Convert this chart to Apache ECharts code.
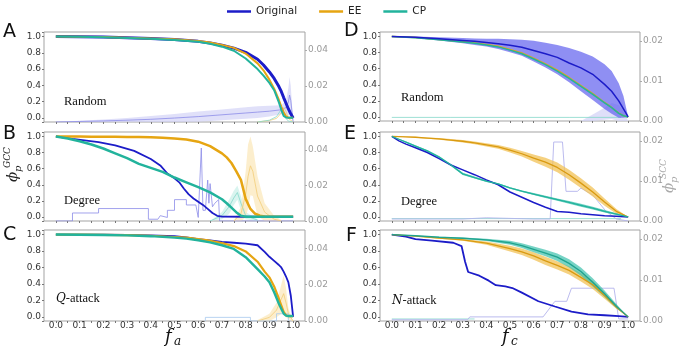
<!DOCTYPE html>
<html><head><meta charset="utf-8">
<script src="https://cdn.jsdelivr.net/npm/echarts@6/dist/echarts.min.js"></script>
<style>html,body{margin:0;padding:0;background:#fff}#c{width:685px;height:355px}</style>
</head><body><div id="c"></div>
<script>
// ---------- tick labels ----------
const xTickLabels = [0,0.1,0.2,0.3,0.4,0.5,0.6,0.7,0.8,0.9,1.0];
const xTicks = [0,0.05,0.1,0.15,0.2,0.25,0.3,0.35,0.4,0.45,0.5,0.55,0.6,0.65,0.7,0.75,0.8,0.85,0.9,0.95,1.0];
const yTickLabels = [0,0.2,0.4,0.6,0.8,1.0];
const panelLetters = ['A','B','C','D','E','F'];
const panelTitles = ['Random','Degree','Q-attack','Random','Degree','N-attack'];
const legendNames = ['Original','EE','CP'];

// ---------- Panel A (Random, GCC) ----------
const xA = [0,0.1,0.2,0.3,0.4,0.5,0.6,0.65,0.7,0.75,0.8,0.85,0.875,0.9,0.92,0.94,0.95,0.96,0.97,0.98,0.99,1.0];
const A_orig = [1,0.998,0.993,0.985,0.975,0.963,0.94,0.92,0.892,0.857,0.805,0.72,0.65,0.565,0.485,0.385,0.325,0.25,0.18,0.11,0.05,0];
const A_ee = [1,0.998,0.993,0.985,0.975,0.965,0.945,0.925,0.897,0.86,0.79,0.67,0.585,0.47,0.36,0.22,0.14,0.07,0.02,0.003,0.002,0.002];
const A_cp = [1,0.997,0.99,0.982,0.972,0.958,0.935,0.91,0.875,0.825,0.73,0.6,0.52,0.43,0.34,0.19,0.1,0.025,0.005,0.002,0.002,0.002];
const xAs = [0,0.1,0.2,0.3,0.4,0.5,0.6,0.7,0.8,0.85,0.9,0.95,0.97,0.98,0.985,0.99,1.0];
const A_orig_s = [0,0.0003,0.0006,0.001,0.0015,0.0022,0.003,0.004,0.005,0.0055,0.006,0.0068,0.008,0.011,0.015,0.012,0];
const A_orig_s_err = [0,0.0004,0.0008,0.0012,0.0018,0.0022,0.0028,0.003,0.0032,0.0033,0.003,0.0025,0.004,0.008,0.01,0.008,0];
const xAs2 = [0.85,0.9,0.93,0.95,0.96,0.97,0.98,1.0];
const A_ee_s = [0,0.0008,0.002,0.005,0.008,0.006,0.002,0];
const A_cp_s = [0,0.001,0.003,0.007,0.005,0.002,0.0005,0];

// ---------- Panel B (Degree, GCC) ----------
const xB_orig = [0,0.07,0.18,0.25,0.33,0.4,0.44,0.47,0.5,0.52,0.54,0.56,0.58,0.6,0.62,0.64,0.66,0.68,0.7,0.8,0.9,1.0];
const B_orig = [1,0.97,0.93,0.89,0.82,0.72,0.64,0.54,0.48,0.43,0.35,0.28,0.23,0.19,0.15,0.1,0.05,0.015,0.004,0.003,0.003,0.003];
const xB = [0,0.05,0.1,0.15,0.2,0.25,0.3,0.35,0.4,0.45,0.5,0.55,0.6,0.65,0.7,0.72,0.74,0.76,0.78,0.8,0.82,0.84,0.86,0.88,0.9,1.0];
const B_ee = [1,0.999,0.998,0.997,0.996,0.995,0.994,0.992,0.99,0.985,0.975,0.962,0.935,0.88,0.79,0.74,0.67,0.57,0.46,0.225,0.1,0.04,0.015,0.005,0.003,0.003];
const B_cp = [1,0.975,0.94,0.9,0.85,0.79,0.73,0.66,0.61,0.56,0.49,0.43,0.37,0.305,0.22,0.17,0.115,0.06,0.015,0.003,0.003,0.003,0.003,0.003,0.003,0.003];
const xBs = [0,0.07,0.07,0.18,0.18,0.39,0.39,0.43,0.44,0.47,0.47,0.5,0.5,0.55,0.55,0.59,0.6,0.613,0.62,0.63,0.64,0.645,0.65,0.66,0.67,0.686,0.69,1.0];
const B_orig_s = [0,0,0.0045,0.0045,0.007,0.007,0.001,0.001,0.003,0.002,0.006,0.006,0.012,0.012,0.009,0.009,0.002,0.041,0.006,0.006,0.023,0.01,0.021,0.008,0.01,0.012,0,0];
const xBs2 = [0.65,0.7,0.73,0.75,0.765,0.78,0.8,0.85];
const B_cp_s = [0,0.003,0.008,0.013,0.016,0.01,0.003,0.0005];
const B_cp_s_err = [0,0.002,0.004,0.004,0.004,0.004,0.002,0.0005];
const xBs3 = [0.75,0.78,0.8,0.81,0.82,0.83,0.85,0.88,0.92,0.95];
const B_ee_s = [0,0.004,0.015,0.025,0.031,0.028,0.014,0.005,0.001,0];
const B_ee_s_err = [0,0.004,0.013,0.018,0.0165,0.014,0.011,0.005,0.002,0.0005];

// ---------- Panel C (Q-attack, GCC) ----------
const xC = [0,0.1,0.2,0.3,0.4,0.5,0.55,0.6,0.65,0.7,0.75,0.8,0.85,0.88,0.9,0.92,0.94,0.95,0.96,0.97,0.98,0.99,1.0];
const C_orig = [1,1,0.998,0.995,0.99,0.98,0.965,0.945,0.93,0.91,0.9,0.89,0.87,0.79,0.73,0.68,0.63,0.6,0.55,0.49,0.42,0.26,0];
const C_ee = [1,0.999,0.997,0.993,0.985,0.97,0.962,0.945,0.925,0.895,0.86,0.795,0.67,0.55,0.48,0.37,0.22,0.14,0.06,0.02,0.01,0.01,0.01];
const C_cp = [1,0.998,0.995,0.99,0.98,0.962,0.95,0.93,0.905,0.87,0.825,0.725,0.58,0.49,0.42,0.3,0.16,0.1,0.04,0.015,0.01,0.01,0.01];
const xCs = [0.85,0.9,0.93,0.95,0.96,0.97,0.98,1.0];
const C_ee_s = [0,0.002,0.006,0.012,0.015,0.01,0.004,0];
const C_ee_s_err = [0.0005,0.002,0.004,0.008,0.01,0.008,0.003,0];
const xCs2 = [0.63,0.63,0.82,0.82,0.93,0.93,0.98,0.98];
const C_orig_s = [0,0.002,0.002,0,0,0.004,0.004,0];

// ---------- Panel D (Random, SCC) ----------
const xD = [0,0.1,0.2,0.3,0.35,0.4,0.45,0.5,0.55,0.6,0.65,0.7,0.75,0.8,0.85,0.9,0.93,0.96,0.98,1.0];
const D_orig = [1,0.99,0.97,0.95,0.94,0.925,0.91,0.89,0.865,0.825,0.785,0.74,0.67,0.61,0.53,0.405,0.32,0.2,0.1,0];
const D_orig_hi = [1,1.0,0.99,0.98,0.975,0.97,0.97,0.965,0.96,0.945,0.92,0.895,0.855,0.81,0.75,0.655,0.57,0.42,0.26,0];
const D_orig_lo = [1,0.98,0.95,0.915,0.895,0.875,0.845,0.805,0.76,0.69,0.615,0.53,0.43,0.32,0.21,0.1,0.04,-0.01,-0.01,0];
const D_ee = [1,0.987,0.963,0.935,0.92,0.9,0.877,0.838,0.795,0.73,0.66,0.58,0.49,0.39,0.29,0.18,0.118,0.047,0.015,0];
const D_cp = [1,0.985,0.96,0.93,0.915,0.895,0.87,0.83,0.785,0.72,0.65,0.57,0.48,0.38,0.28,0.175,0.115,0.045,0.015,0];
const xDs = [0,0.25,0.5,0.75,0.97];
const D_cp_s = [0.0009,0.0009,0.0009,0.0009,0.0009];
const xDs2 = [0.8,0.85,0.9,0.93,0.96,0.98,1.0];
const D_orig_s = [0,0.0008,0.0018,0.0025,0.002,0.001,0];
const D_orig_s_err = [0,0.0008,0.0015,0.002,0.002,0.0015,0];

// ---------- Panel E (Degree, SCC) ----------
const xE = [0,0.03,0.06,0.1,0.15,0.2,0.25,0.3,0.35,0.4,0.45,0.5,0.55,0.6,0.65,0.7,0.75,0.8,0.85,0.9,0.95,1.0];
const E_orig = [1,0.945,0.905,0.86,0.8,0.725,0.645,0.585,0.525,0.46,0.4,0.31,0.245,0.18,0.12,0.068,0.06,0.04,0.028,0.015,0.01,0];
const E_ee = [1,0.998,0.995,0.99,0.98,0.97,0.955,0.94,0.92,0.895,0.87,0.83,0.785,0.73,0.68,0.615,0.525,0.42,0.31,0.185,0.07,0];
const E_ee_err = [0,0.002,0.004,0.006,0.008,0.01,0.012,0.015,0.018,0.02,0.024,0.028,0.035,0.045,0.055,0.06,0.062,0.06,0.055,0.045,0.03,0];
const E_cp = [1,0.965,0.93,0.88,0.82,0.745,0.645,0.535,0.49,0.445,0.41,0.36,0.32,0.285,0.25,0.215,0.18,0.145,0.11,0.07,0.035,0];
const E_cp_err = [0,0.005,0.008,0.01,0.012,0.012,0.013,0.015,0.012,0.01,0.01,0.01,0.01,0.012,0.013,0.015,0.017,0.018,0.018,0.016,0.01,0];
const xEs = [0,0.3,0.4,0.6,0.67,0.685,0.722,0.737,0.785,0.8,0.85,0.905,0.95,1.0];
const E_orig_s = [0.0005,0.0005,0.0008,0.0005,0.0005,0.0197,0.0197,0.0074,0.0074,0.0082,0.0065,0.0025,0.0005,0];
const xEs2 = [0,0.5,0.97];
const E_cp_s = [0.0006,0.0006,0.0006];

// ---------- Panel F (N-attack, SCC) ----------
const xF_orig = [0,0.06,0.1,0.17,0.26,0.295,0.31,0.323,0.37,0.41,0.44,0.48,0.51,0.55,0.62,0.69,0.76,0.83,0.9,0.96,1.0];
const F_orig = [1,0.975,0.945,0.925,0.9,0.86,0.67,0.545,0.5,0.44,0.385,0.37,0.35,0.294,0.19,0.126,0.063,0.03,0.02,0.01,0];
const xF = [0,0.1,0.2,0.3,0.4,0.5,0.55,0.6,0.65,0.7,0.75,0.8,0.85,0.9,0.95,1.0];
const F_cp = [1,0.985,0.967,0.955,0.935,0.9,0.865,0.82,0.775,0.725,0.65,0.55,0.42,0.28,0.13,0];
const F_cp_err = [0,0.003,0.006,0.01,0.015,0.025,0.03,0.035,0.04,0.045,0.05,0.05,0.05,0.04,0.025,0];
const F_ee = [1,0.98,0.956,0.935,0.895,0.83,0.79,0.74,0.68,0.625,0.565,0.48,0.39,0.26,0.12,0];
const F_ee_err = [0,0.004,0.008,0.012,0.02,0.035,0.04,0.045,0.05,0.05,0.05,0.05,0.05,0.04,0.02,0];
const xFs = [0,0.32,0.33,0.64,0.69,0.74,0.76,0.94,0.96,1.0];
const F_orig_s = [0.0003,0.0003,0.001,0.001,0.0048,0.0048,0.008,0.008,0.0005,0.0005];
const xFs2 = [0,0.35];
const F_cp_s = [0.0005,0.0005];

// ---------- styling ----------
const BLUE = '#1c1cc8', ORANGE = '#e6a512', TEAL = '#22b39c';
const FBLUE = '#8c8ce8', FORANGE = '#f2cd78', FTEAL = '#86d8cb';
const SANS = 'DejaVu Sans', SERIF = 'Liberation Serif', MATH = 'DejaVu Serif';

const grids = [
  {left:44, top:32, width:261, height:90},
  {left:44, top:132, width:261, height:89},
  {left:44, top:230, width:261, height:91},
  {left:380, top:32, width:260, height:89},
  {left:380, top:132, width:260, height:89},
  {left:380, top:230, width:260, height:91}
].map(g => Object.assign({show:true, borderColor:'#a3a3a3', borderWidth:1, backgroundColor:'#fff'}, g));

const xAxes = grids.map((g,i) => ({
  type:'value', gridIndex:i, position:'bottom', min:-0.05, max:1.05,
  axisLine:{show:false, onZero:false}, splitLine:{show:false},
  axisTick:{show:true, customValues:xTicks, length:2, lineStyle:{color:'#777'}},
  axisLabel:{show:(i===2||i===5), customValues:xTickLabels, formatter:v=>v.toFixed(1),
    fontSize:9, color:'#333', fontFamily:SANS, margin:0, hideOverlap:false}
}));

const isTickLabel = v => yTickLabels.some(t=>Math.abs(t-v)<1e-6);
const yAxes = [];
for (let i=0;i<6;i++){
  yAxes.push({
    type:'value', gridIndex:i, position:'left', min:-0.05, max:1.055, splitNumber:5,
    axisLine:{show:false, onZero:false}, splitLine:{show:false},
    axisTick:{show:true, length:2, lineStyle:{color:'#777'}},
    axisLabel:{formatter:v=>isTickLabel(v) ? v.toFixed(1) : '',
      hideOverlap:false, fontSize:9, color:'#333', fontFamily:SANS, margin:3}
  });
  const right = i<3 ? {max:0.05, interval:0.02} : {max:0.0222, interval:0.01};
  yAxes.push(Object.assign({
    type:'value', gridIndex:i, position:'right', min:0,
    axisLine:{show:false, onZero:false}, splitLine:{show:false},
    axisTick:{show:true, length:2, lineStyle:{color:'#aaa'}},
    axisLabel:{formatter:v=>v.toFixed(2), showMaxLabel:false, hideOverlap:false,
      fontSize:9, color:'#9a9a9a', fontFamily:SANS, margin:3}
  }, right));
}

const zip = (xs, ys) => xs.map((x,i)=>[x, ys[i]]);
const series = [];
function line(p, right, xs, ys, color, width, name, opacity, z){
  series.push({type:'line', name:name, xAxisIndex:p, yAxisIndex:2*p+(right?1:0),
    data:zip(xs,ys), symbol:'none', showSymbol:false, clip:true, silent:true,
    lineStyle:{color:color, width:width, opacity:opacity==null?1:opacity},
    itemStyle:{color:color}, z:z||3});
}
function band(p, right, xs, lo, hi, color, opacity, z){
  series.push({type:'custom', xAxisIndex:p, yAxisIndex:2*p+(right?1:0), clip:true, silent:true, z:z||2,
    data:xs.map((x,i)=>[x, lo[i], hi[i]]),
    encode:{x:0, y:[1,2]},
    renderItem:(params, api) => {
      if (params.dataIndex !== 0) return;
      const pts = [];
      for (let i=0;i<xs.length;i++) pts.push(api.coord([xs[i], hi[i]]));
      for (let i=xs.length-1;i>=0;i--) pts.push(api.coord([xs[i], lo[i]]));
      return {type:'polygon', shape:{points:pts}, style:{fill:color, opacity:opacity}};
    }});
}
const minus = (a,e)=>a.map((v,i)=>v-e[i]);
const plus = (a,e)=>a.map((v,i)=>v+e[i]);
const pos = a=>a.map(v=>Math.max(0,v));

// A
band(0,true,xAs,pos(minus(A_orig_s,A_orig_s_err)),plus(A_orig_s,A_orig_s_err),'#cfcff6',0.65,1);
line(0,true,xAs,A_orig_s,FBLUE,1,'oA',0.8,1);
line(0,true,xAs2,A_ee_s,FORANGE,1,'eA',0.8,1);
line(0,true,xAs2,A_cp_s,FTEAL,1,'cA',0.8,1);
line(0,false,xA,A_orig,BLUE,3,'Original');
line(0,false,xA,A_ee,ORANGE,2,'EE');
line(0,false,xA,A_cp,TEAL,2,'CP');
// B
band(1,true,xBs2,minus(B_cp_s,B_cp_s_err),plus(B_cp_s,B_cp_s_err),'#bfece4',0.6,1);
band(1,true,xBs3,pos(minus(B_ee_s,B_ee_s_err)),plus(B_ee_s,B_ee_s_err),'#fbe7b8',0.7,1);
line(1,true,xBs,B_orig_s,FBLUE,1,'oB',0.8,1);
line(1,true,xBs2,B_cp_s,FTEAL,1,'cB',0.8,1);
line(1,true,xBs3,B_ee_s,FORANGE,1,'eB',0.8,1);
line(1,false,xB_orig,B_orig,BLUE,1.8,'Original');
line(1,false,xB,B_ee,ORANGE,2.5,'EE');
line(1,false,xB,B_cp,TEAL,2.5,'CP');
// C
band(2,true,xCs,pos(minus(C_ee_s,C_ee_s_err)),plus(C_ee_s,C_ee_s_err),'#fbe7b8',0.7,1);
line(2,true,xCs,C_ee_s,FORANGE,1,'eC',0.8,1);
line(2,true,xCs2,C_orig_s,'#a8c8ee',1,'oC',0.8,1);
line(2,false,xC,C_orig,BLUE,1.8,'Original');
line(2,false,xC,C_ee,ORANGE,2.2,'EE');
line(2,false,xC,C_cp,TEAL,2.4,'CP');
// D
line(3,true,xDs,D_cp_s,FTEAL,1,'cD',0.8,1);
band(3,true,xDs2,pos(minus(D_orig_s,D_orig_s_err)),plus(D_orig_s,D_orig_s_err),'#d2d2f6',0.7,1);
band(3,false,xD,D_orig_lo,D_orig_hi,'#6464ee',0.72,2);
line(3,false,xD,D_ee,ORANGE,1.5,'EE');
line(3,false,xD,D_cp,TEAL,1.5,'CP');
line(3,false,xD,D_orig,BLUE,1.5,'Original',1,5);
// E
line(4,true,xEs2,E_cp_s,FTEAL,1,'cE',0.8,1);
line(4,true,xEs,E_orig_s,'#b4b4ec',1,'oE',0.9,1);
band(4,false,xE,minus(E_ee,E_ee_err),plus(E_ee,E_ee_err),'#f1c256',0.75,2);
band(4,false,xE,minus(E_cp,E_cp_err),plus(E_cp,E_cp_err),'#3cc0ad',0.75,2);
line(4,false,xE,E_orig,BLUE,1.5,'Original');
line(4,false,xE,E_ee,'#d99a10',1.3,'EE');
line(4,false,xE,E_cp,TEAL,1.3,'CP');
// F
line(5,true,xFs2,F_cp_s,FTEAL,1,'cF',0.8,1);
line(5,true,xFs,F_orig_s,'#b4b4ec',1,'oF',0.9,1);
band(5,false,xF,minus(F_ee,F_ee_err),plus(F_ee,F_ee_err),'#f1c256',0.75,2);
band(5,false,xF,minus(F_cp,F_cp_err),plus(F_cp,F_cp_err),'#3cc0ad',0.7,2);
line(5,false,xF_orig,F_orig,BLUE,1.8,'Original');
line(5,false,xF,F_ee,'#d99a10',1.3,'EE');
line(5,false,xF,F_cp,'#1fa38e',1.3,'CP');

// ---------- text graphics ----------
const letterPos = [[3,34],[3,136],[3,237],[344,33],[344,136],[346,238]];
const titlePos = [[64,102],[64,201],[56,299],[401,98],[401,202],[392,301]];
const graphic = [];
panelLetters.forEach((t,i)=>graphic.push({type:'text', left:letterPos[i][0], top:letterPos[i][1]-11,
  style:{text:t, fontSize:19, fontFamily:SANS, fill:'#111'}}));
panelTitles.forEach((t,i)=>{
  let txt = t;
  if (t==='Q-attack'){ txt = '{i|Q}{n|-attack}'; }
  if (t==='N-attack'){ txt = '{i|N}{n|-attack}'; }
  const rich = {i:{fontStyle:'italic', fontFamily:MATH, fontSize:12, fill:'#111'}, n:{fontFamily:SERIF, fontSize:12.5, fill:'#111'}};
  graphic.push({type:'text', x:titlePos[i][0], y:titlePos[i][1],
    style:{text:txt, rich:rich, fontSize:12.5, fontFamily:SERIF, fill:'#111', verticalAlign:'middle'}});
});
// x axis titles
[[165,337,'a'],[502,337,'c']].forEach(a=>{
  graphic.push({type:'text', x:a[0], y:a[1], style:{text:'f', fontSize:18, fontStyle:'italic', fontFamily:MATH, fill:'#111', verticalAlign:'middle'}});
  graphic.push({type:'text', x:a[0]+9, y:a[1]+5, style:{text:a[2], fontSize:12, fontStyle:'italic', fontFamily:MATH, fill:'#111', verticalAlign:'middle'}});
});
// phi labels
function phiLabel(x,y,sup,color){
  graphic.push({type:'group', x:x, y:y, rotation:Math.PI/2, children:[
    {type:'text', x:0, y:-4, style:{text:'ϕ', fontSize:15, fontStyle:'italic', fontFamily:MATH, fill:color, verticalAlign:'middle'}},
    {type:'text', x:10, y:1, style:{text:'p', fontSize:10, fontStyle:'italic', fontFamily:MATH, fill:color, verticalAlign:'middle'}},
    {type:'text', x:14, y:-9, style:{text:sup, fontSize:9, fontStyle:'italic', fontFamily:MATH, fill:color, verticalAlign:'middle'}}
  ]});
}
phiLabel(17,182,'GCC','#222');
phiLabel(673,193,'SCC','#aaa');

const chart = echarts.init(document.getElementById('c'), null, {renderer:'canvas'});
chart.setOption({
  animation:false,
  backgroundColor:'#fff',
  legend:{data:legendNames, left:222, top:1, icon:'rect', itemWidth:24, itemHeight:2.5, itemGap:22,
    textStyle:{fontSize:10.5, color:'#222', fontFamily:SANS}},
  grid:grids, xAxis:xAxes, yAxis:yAxes, series:series, graphic:graphic
});
</script></body></html>
